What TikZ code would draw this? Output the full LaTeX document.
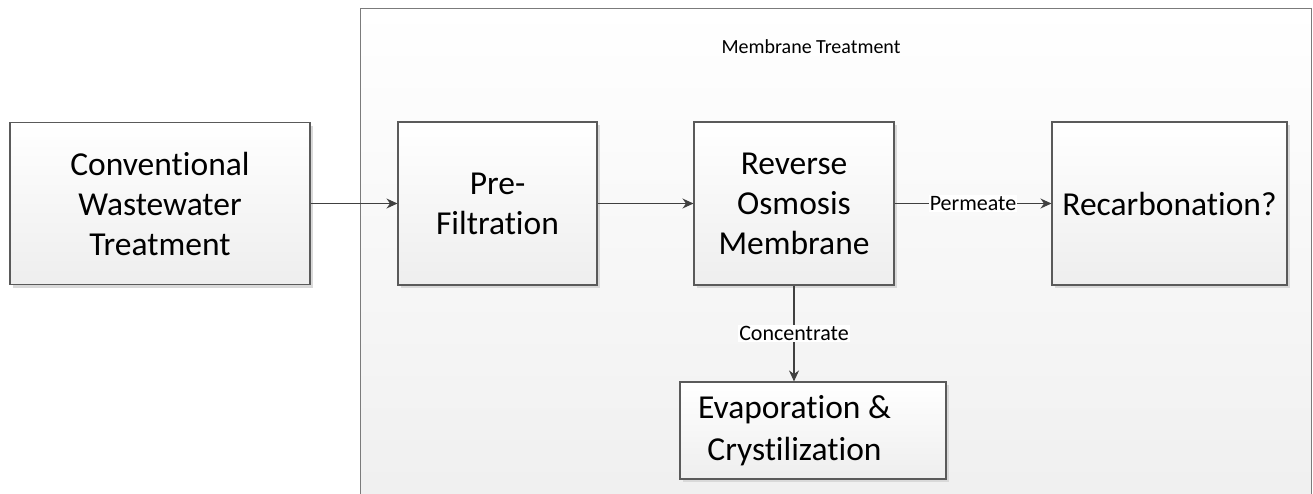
\documentclass[tikz,border=0pt]{standalone}
\usepackage{fontspec}
\setmainfont{Carlito}[RawFeature={-liga;-clig}]
\usetikzlibrary{arrows.meta,shadows,calc}
\definecolor{edge}{HTML}{5A5A5A}
\definecolor{arrowc}{HTML}{404040}
\definecolor{boxbot}{HTML}{EEEEEE}
\definecolor{contbot}{HTML}{EFEFEF}
\tikzset{
  procbox/.style={draw=edge, line width=1.1pt, top color=white, bottom color=boxbot,
    align=center, inner sep=0pt, font=\fontsize{33.5}{40}\selectfont,
    drop shadow={shadow xshift=3pt, shadow yshift=-3pt, fill=black!15, opacity=1}},
  flow/.style={draw=arrowc, line width=1.1pt, -{Stealth[length=11pt,width=10pt]}},
  flowlabel/.style={fill=white, inner sep=1pt, font=\fontsize{22}{24}\selectfont, text=black},
}
\begin{document}
\begin{tikzpicture}[x=1pt,y=-1pt]
\useasboundingbox (0,0) rectangle (1313,493);
\clip (0,0) rectangle (1313,493);
% container
\draw[draw=edge!80, line width=1pt, top color=white, bottom color=contbot] (360,8) rectangle (1311.5,520);
\node[font=\fontsize{20}{22}\selectfont] (title) at (811,47) {Membrane Treatment};
% boxes
\node[procbox, minimum width=300pt, minimum height=162pt] (conv) at (160,203.5) {Conventional\\Wastewater\\Treatment};
\node[procbox, minimum width=199pt, minimum height=163pt] (pre) at (497.5,203.5) {Pre-\\Filtration};
\node[procbox, minimum width=200pt, minimum height=163pt] (ro) at (794,203.5) {Reverse\\Osmosis\\Membrane};
\node[procbox, minimum width=235pt, minimum height=163pt] (rec) at (1169.5,203.5) {Recarbonation?};
\node[procbox, minimum width=266pt, minimum height=97pt] (evap) at (813,430.5) {};
\node[align=center, inner sep=0pt, font=\fontsize{33.5}{42}\selectfont] (evaptext) at (794.5,430.5) {Evaporation \&\\Crystilization};
% connectors
\draw[flow] (conv.east) -- (pre.west);
\draw[flow] (pre.east) -- (ro.west);
\draw[flow] (ro.east) -- node[flowlabel] {Permeate} (rec.west);
\draw[flow] (ro.south) -- node[flowlabel, pos=0.5] {Concentrate} (ro.south |- evap.north);
\end{tikzpicture}
\end{document}
